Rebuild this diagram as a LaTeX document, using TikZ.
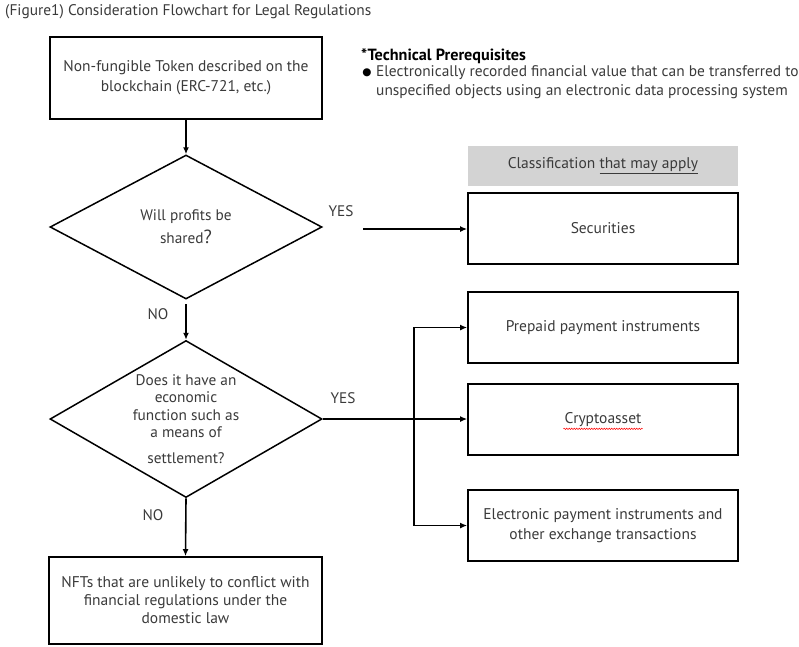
\documentclass[tikz,border=0pt]{standalone}
\usepackage{fontspec}
\setmainfont{PT Sans}
\newfontfamily\symfont{DejaVu Sans}
\usetikzlibrary{shapes.geometric,arrows.meta,decorations.pathmorphing}
\definecolor{txt}{HTML}{3A3A3A}
\definecolor{hdr}{HTML}{D3D3D3}
\tikzset{
  box/.style={draw, line width=1.8pt, align=center, inner sep=0pt, text=txt,
              font=\fontsize{15.5}{20}\selectfont},
  rbox/.style={box, minimum width=270pt, minimum height=71pt},
  dia/.style={draw, diamond, line width=1.5pt, inner sep=0pt},
  dtext/.style={align=center, text=txt, font=\fontsize{15.3}{17.5}\selectfont},
  lbl/.style={text=txt, font=\fontsize{15.3}{16}\selectfont, inner sep=0pt},
  arr/.style={line width=1.6pt, -{Latex[length=7pt,width=6pt]}},
  ln/.style={line width=1.6pt}
}
\begin{document}
\begin{tikzpicture}[x=1pt,y=-1pt]
\useasboundingbox (0,0) rectangle (799,646);
% title
\node[anchor=west, inner sep=0pt, text=txt, font=\fontsize{15.4}{16}\selectfont] (title) at (5,12)
  {(Figure1) Consideration Flowchart for Legal Regulations};
% prerequisites
\node[anchor=west, inner sep=0pt, font=\bfseries\fontsize{16.2}{17}\selectfont] (tp) at (361,56.5) {*Technical Prerequisites};
\node[inner sep=0pt, font=\symfont\fontsize{10.5}{12}\selectfont] (bul) at (367,72.5) {●};
\node[anchor=north west, align=left, inner sep=0pt, text=txt, font=\fontsize{15.4}{19}\selectfont] (tpt) at (376,65)
  {Electronically recorded financial value that can be transferred to\\unspecified objects using an electronic data processing system};
% left column
\node[box, minimum width=272pt, minimum height=82pt] (b1) at (186,78)
  {Non-fungible Token described on the\\blockchain (ERC-721, etc.)};
\node[dia, minimum width=272pt, minimum height=144pt] (d1) at (186,227) {};
\node[dtext, font=\fontsize{15.3}{23}\selectfont] (d1t) at (186,227) {Will profits be\\shared{\fontsize{19}{19}\selectfont ?}};
\node[dia, minimum width=272pt, minimum height=157pt] (d2) at (186,419) {};
\node[dtext] (d2t) at (186,419) {Does it have an\\economic\\function such as\\a means of\\[8pt]settlement?};
\node[box, minimum width=273pt, minimum height=87pt, font=\fontsize{15.5}{18}\selectfont] (bot) at (185.5,600.5)
  {NFTs that are unlikely to conflict with\\financial regulations under the\\domestic law};
% right column
\node[fill=hdr, minimum width=270pt, minimum height=40pt, inner sep=0pt, text=txt,
      font=\fontsize{15.5}{16}\selectfont] (hd) at (603,166) {Classification \underline{that may apply}};
\node[rbox] (sec) at (603,228.5) {Securities};
\node[rbox] (pre) at (603,327.5) {Prepaid payment instruments};
\node[rbox] (cry) at (603,419.5) {};
\node[text=txt, font=\fontsize{15.5}{16}\selectfont, inner sep=1pt] (cryt) at (603,419.5) {Cryptoasset};
\node[rbox] (ele) at (603,525.5) {Electronic payment instruments and\\other exchange transactions};
% red wavy underline
\draw[red, line width=0.5pt, decorate, decoration={snake, amplitude=0.7pt, segment length=2.5pt}]
  ([yshift=-1pt]cryt.south west) -- ([yshift=-1pt]cryt.south east);
% labels
\node[lbl] (yes1) at (341,211) {YES};
\node[lbl] (no1) at (158,314) {NO};
\node[lbl] (yes2) at (343,398) {YES};
\node[lbl] (no2) at (153,515) {NO};
% connectors
\draw[arr] (b1.south) -- (d1.north);
\coordinate (ys) at (363,229);
\draw[arr] (ys) -- (ys -| sec.west);
\coordinate (ns) at (186,304);
\draw[arr] (ns) -- (d2.north);
\coordinate (br) at (414,419);
\draw[arr] (d2.east) -- (d2.east -| cry.west);
\draw[arr] (br) |- (pre.west);
\draw[arr] (br) |- (ele.west);
\draw[arr] (d2.south) -- (bot.north);
\end{tikzpicture}
\end{document}
